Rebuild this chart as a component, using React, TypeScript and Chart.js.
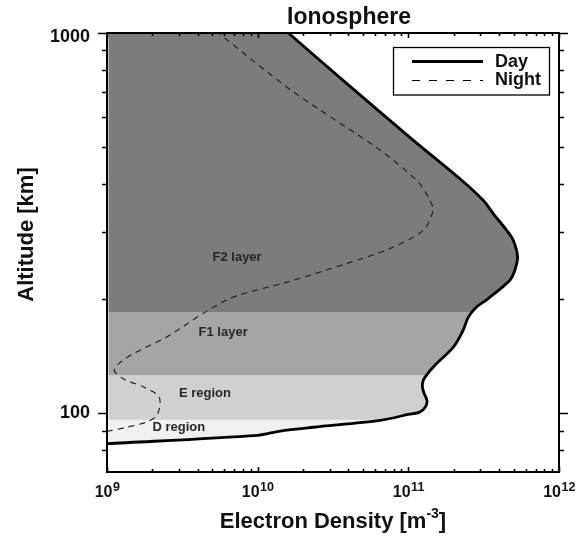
import { useEffect, useRef } from 'react';
import { Chart, registerables } from 'chart.js';

Chart.register(...registerables);

// Daytime electron density profile (altitude in km, density in m^-3)
const dayAltitude = [83.1, 87.4, 89.7, 91.8, 95.7, 99.2, 100.6, 104, 108, 113, 117, 121, 124.4, 133.6, 149.2, 165.1, 178.9, 190.2, 200.1, 223.7, 237.6, 257.6, 285, 302.8, 335, 363, 410, 522, 737, 1000];
const dayDensity = [1.0e9, 1.0e10, 1.41e10, 2.34e10, 6.49e10, 1.0e11, 1.19e11, 1.3e11, 1.33e11, 1.27e11, 1.24e11, 1.25e11, 1.29e11, 1.5e11, 1.99e11, 2.31e11, 2.5e11, 2.84e11, 3.39e11, 4.72e11, 5.09e11, 5.31e11, 4.97e11, 4.49e11, 3.66e11, 3.14e11, 2.26e11, 1.08e11, 3.89e10, 1.6e10];

// Nighttime electron density profile
const nightAltitude = [89.5, 91.8, 94.7, 98.6, 105.9, 111.3, 117.1, 123.2, 129, 134, 143.4, 158.6, 183, 202, 222, 247.5, 271, 303, 342, 363, 406, 492, 701, 1000];
const nightDensity = [1.0e9, 1.35e9, 1.83e9, 2.14e9, 2.25e9, 2.19e9, 1.75e9, 1.28e9, 1.12e9, 1.17e9, 1.5e9, 2.49e9, 4.35e9, 6.89e9, 1.62e10, 3.89e10, 7.55e10, 1.26e11, 1.46e11, 1.39e11, 1.16e11, 6.49e10, 1.72e10, 5.48e9];

// Ionospheric regions: name, altitude span (km)
const regionNames = ['F2 layer', 'F1 layer', 'E region', 'D region'];
const regionTop = [1000, 184.5, 125.5, 96];
const regionBottom = [184.5, 125.5, 96, 70];
const regionColors = ['#7c7c7c', '#a4a6a6', '#cfd1d1', '#f0f0f0'];
const regionLabelDensity = [7.3e9, 5.9e9, 4.47e9, 3.0e9];
const regionLabelAltitude = [257, 163, 112.5, 91.8];

// Axis ticks
const densityMin = 1e9;
const densityMax = 1e12;
const altitudeMin = 70;
const altitudeMax = 1000;
const densityExponents = [9, 10, 11, 12];
const altitudeTicks = [100, 1000];
const altitudeMinorTicks = [80, 90, 200, 300, 400, 500, 600, 700, 800, 900];

const FONT = '"Liberation Sans", Arial, Helvetica, sans-serif';

const ionospherePlugin = {
  id: 'ionosphere',
  beforeDatasetsDraw(chart: any) {
    const { ctx, chartArea } = chart;
    const xs = chart.scales.x;
    const ys = chart.scales.y;
    const line = chart.getDatasetMeta(0).dataset;
    if (line.updateControlPoints) line.updateControlPoints(chartArea, 'x');

    // shade the area under the daytime profile by region
    ctx.save();
    ctx.beginPath();
    line.path(ctx);
    ctx.lineTo(chartArea.left, chartArea.top);
    ctx.closePath();
    ctx.clip();
    for (let i = 0; i < regionNames.length; i++) {
      const yTop = ys.getPixelForValue(regionTop[i]);
      const yBot = ys.getPixelForValue(regionBottom[i]);
      ctx.fillStyle = regionColors[i];
      ctx.fillRect(chartArea.left + 1.5, yTop, chartArea.right - chartArea.left, yBot - yTop);
    }
    ctx.restore();

    ctx.save();
    ctx.fillStyle = '#262626';
    ctx.font = `bold 13px ${FONT}`;
    ctx.textAlign = 'center';
    ctx.textBaseline = 'middle';
    for (let i = 0; i < regionNames.length; i++) {
      ctx.fillText(
        regionNames[i],
        xs.getPixelForValue(regionLabelDensity[i]),
        ys.getPixelForValue(regionLabelAltitude[i])
      );
    }
    ctx.restore();
  },
  afterDatasetsDraw(chart: any) {
    const { ctx, chartArea } = chart;
    const { left, right, top, bottom } = chartArea;
    const xs = chart.scales.x;
    const ys = chart.scales.y;

    ctx.save();
    ctx.strokeStyle = '#000';
    ctx.lineWidth = 1.6;

    // x ticks (inward on bottom and top)
    const xTick = (v: number, len: number) => {
      const px = Math.round(xs.getPixelForValue(v)) + 0.5;
      ctx.beginPath();
      ctx.moveTo(px, bottom);
      ctx.lineTo(px, bottom - len);
      ctx.moveTo(px, top);
      ctx.lineTo(px, top + len);
      ctx.stroke();
    };
    for (let e = 9; e < 12; e++) {
      for (let m = 2; m <= 9; m++) xTick(m * Math.pow(10, e), 3);
    }
    for (const e of densityExponents) xTick(Math.pow(10, e), 5);

    // y ticks (outward on left and right)
    const yTick = (v: number, len: number) => {
      const py = Math.round(ys.getPixelForValue(v)) + 0.5;
      ctx.beginPath();
      ctx.moveTo(left, py);
      ctx.lineTo(left - len, py);
      ctx.moveTo(right, py);
      ctx.lineTo(right + len, py);
      ctx.stroke();
    };
    altitudeMinorTicks.forEach((v) => yTick(v, 5));
    altitudeTicks.forEach((v) => yTick(v, 9));

    // frame
    ctx.lineWidth = 2;
    ctx.strokeRect(left, top, right - left, bottom - top);

    // y tick labels
    ctx.fillStyle = '#111';
    ctx.font = `bold 18px ${FONT}`;
    ctx.textAlign = 'right';
    ctx.textBaseline = 'middle';
    altitudeTicks.forEach((v) => {
      const py = ys.getPixelForValue(v);
      ctx.fillText(String(v), left - 17, Math.max(py, top + 4.5));
    });

    // x tick labels with exponents
    ctx.textAlign = 'left';
    ctx.textBaseline = 'alphabetic';
    for (const e of densityExponents) {
      const px = xs.getPixelForValue(Math.pow(10, e));
      ctx.font = `bold 16px ${FONT}`;
      const wb = ctx.measureText('10').width;
      ctx.font = `bold 12.5px ${FONT}`;
      const we = ctx.measureText(String(e)).width;
      const x0 = px - (wb + we) / 2;
      ctx.font = `bold 16px ${FONT}`;
      ctx.fillText('10', x0, bottom + 25);
      ctx.font = `bold 12.5px ${FONT}`;
      ctx.fillText(String(e), x0 + wb + 0.5, bottom + 19);
    }

    // axis titles
    ctx.font = `bold 22px ${FONT}`;
    const t1 = 'Electron Density [m';
    const t2 = '-3';
    const t3 = ']';
    const w1 = ctx.measureText(t1).width;
    const w3 = ctx.measureText(t3).width;
    ctx.font = `bold 14px ${FONT}`;
    const w2 = ctx.measureText(t2).width;
    const cx = (left + right) / 2;
    let xx = cx - (w1 + w2 + w3) / 2;
    const base = bottom + 55.5;
    ctx.font = `bold 22px ${FONT}`;
    ctx.fillText(t1, xx, base);
    xx += w1;
    ctx.font = `bold 14px ${FONT}`;
    ctx.fillText(t2, xx, base - 10);
    xx += w2;
    ctx.font = `bold 22px ${FONT}`;
    ctx.fillText(t3, xx, base);

    ctx.save();
    ctx.translate(33, 234.5);
    ctx.rotate(-Math.PI / 2);
    ctx.textAlign = 'center';
    ctx.fillText('Altitude [km]', 0, 0);
    ctx.restore();

    // title
    ctx.textAlign = 'center';
    ctx.font = `bold 23px ${FONT}`;
    ctx.fillText('Ionosphere', 349, 23.5);

    // legend
    ctx.fillStyle = '#fff';
    ctx.fillRect(393.5, 47.5, 156, 47.5);
    ctx.lineWidth = 1.3;
    ctx.strokeStyle = '#000';
    ctx.strokeRect(393.5, 47.5, 156, 47.5);
    ctx.beginPath();
    ctx.lineWidth = 2.8;
    ctx.moveTo(412, 61.5);
    ctx.lineTo(483, 61.5);
    ctx.stroke();
    ctx.beginPath();
    ctx.lineWidth = 1.1;
    ctx.setLineDash([8, 9]);
    ctx.moveTo(412, 80.5);
    ctx.lineTo(483, 80.5);
    ctx.stroke();
    ctx.setLineDash([]);
    ctx.fillStyle = '#111';
    ctx.textAlign = 'left';
    ctx.font = `bold 18px ${FONT}`;
    ctx.fillText('Day', 495, 66.5);
    ctx.fillText('Night', 495, 85);
    ctx.restore();
  },
};

export default function App() {
  const canvasRef = useRef<HTMLCanvasElement | null>(null);

  useEffect(() => {
    const canvas = canvasRef.current;
    if (!canvas) return;
    const chart = new Chart(canvas, {
      type: 'line',
      data: {
        datasets: [
          {
            label: 'Day',
            data: dayAltitude.map((h, i) => ({ x: dayDensity[i], y: h })),
            borderColor: '#000',
            borderWidth: 2.8,
            pointRadius: 0,
            tension: 0.3,
            fill: false,
          },
          {
            label: 'Night',
            data: nightAltitude.map((h, i) => ({ x: nightDensity[i], y: h })),
            borderColor: '#1a1a1a',
            borderWidth: 1.1,
            borderDash: [6, 5],
            pointRadius: 0,
            tension: 0.3,
            fill: false,
          },
        ],
      },
      options: {
        animation: false,
        responsive: false,
        devicePixelRatio: 1,
        parsing: false,
        normalized: false,
        layout: { padding: { left: 107, right: 22, top: 33, bottom: 66 } },
        scales: {
          x: { type: 'logarithmic', min: densityMin, max: densityMax, display: false },
          y: { type: 'logarithmic', min: altitudeMin, max: altitudeMax, display: false },
        },
        plugins: {
          legend: { display: false },
          title: { display: false },
          tooltip: { enabled: false },
        },
      },
      plugins: [ionospherePlugin],
    });
    return () => chart.destroy();
  }, []);

  return (
    <div style={{ position: 'fixed', left: 0, top: 0, width: 581, height: 538, background: '#fff' }}>
      <canvas ref={canvasRef} width={581} height={538} />
    </div>
  );
}
